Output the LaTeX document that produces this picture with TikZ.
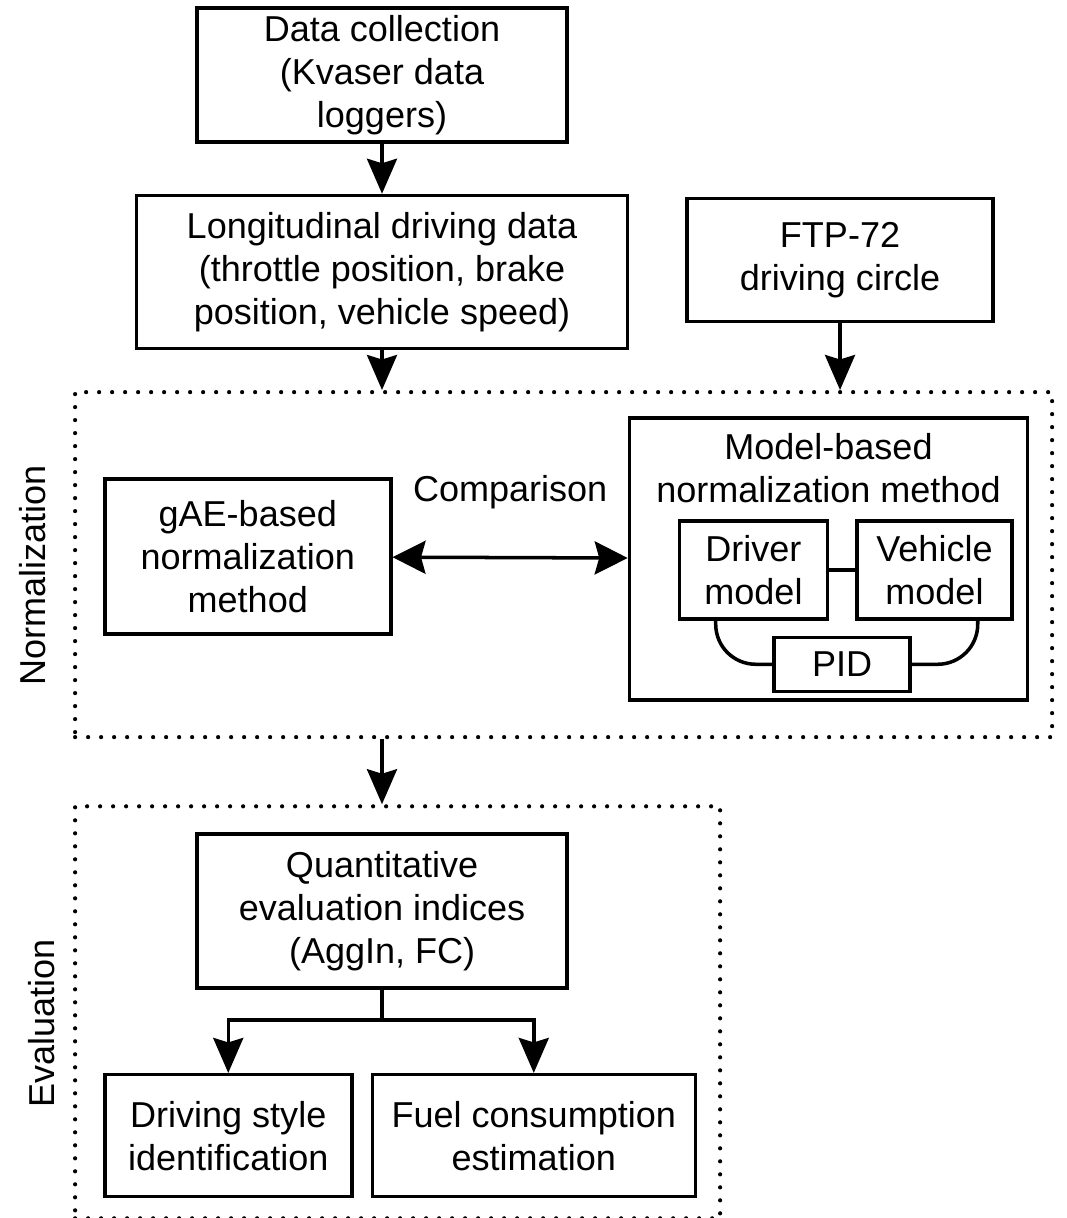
\documentclass[tikz,border=0pt]{standalone}
\usepackage{fontspec}
\setmainfont{Liberation Sans}
\usetikzlibrary{arrows.meta, positioning, calc}

\begin{document}
\begin{tikzpicture}[
  font=\fontsize{20.5}{24.5}\selectfont,
  node distance=10mm,
  box/.style   ={draw, line width=2pt, align=center, inner sep=2pt},
  frame/.style ={draw, line width=2.4pt, dash pattern=on 0pt off 2.6mm,
                 line cap=round, inner sep=0pt},
  side/.style  ={rotate=90, anchor=center},
  arr/.style   ={-{Stealth[length=7mm, width=6mm, inset=0.9mm]}, line width=2pt},
  biarr/.style ={{Stealth[length=6.6mm, width=6.6mm, inset=0.9mm]}-{Stealth[length=6.6mm, width=6.6mm, inset=0.9mm]},
                 line width=2pt},
  link/.style  ={line width=2pt},
]
\useasboundingbox (0,0) rectangle (213.2mm,-243.6mm);

% ================= row 1: data sources =================
\node[box, minimum width=74mm, minimum height=26.8mm] (collect) at (76.4mm,-15mm)
  {Data collection\\(Kvaser data\\loggers)};
\node[box, below=10mm of collect, minimum width=98.2mm, minimum height=30.6mm] (logdata)
  {Longitudinal driving data\\(throttle position, brake\\position, vehicle speed)};
\node[box, right=11.2mm of logdata, yshift=2.4mm, minimum width=61.2mm,
      minimum height=24.6mm] (ftp)
  {FTP-72\\driving circle};

\draw[arr] (collect) -- (logdata);

% ================= row 2: normalization =================
\node[frame, anchor=north west, minimum width=195.4mm, minimum height=69mm]
  (normfr) at (14.6mm,-78mm) {};
\node[side] (normlbl) at ($(normfr.west)+(-8mm,-2.2mm)$) {Normalization};

\draw[arr] (logdata.south) -- (logdata.south |- normfr.north);
\draw[arr] (ftp.south) -- (ftp.south |- normfr.north);

\node[box, right=6mm of normfr.west, yshift=1.6mm, minimum width=57.2mm,
      minimum height=31mm] (gae)
  {gAE-based\\normalization\\method};

\node[box, below left=5.2mm and 5mm of normfr.north east, minimum width=79.6mm,
      minimum height=56.4mm] (model) {};
\node[align=center] (modeltxt) at ($(model.north)+(0,-10.5mm)$)
  {Model-based\\normalization method};

% driver / vehicle loop inside the model-based method
\node[box, below right=20.6mm and 10mm of model.north west, minimum width=29.6mm,
      minimum height=19.6mm] (driver) {Driver\\model};
\node[box, right=5.2mm of driver, minimum width=31mm, minimum height=19.6mm]
  (vehicle) {Vehicle\\model};
\node[box, below=3mm of $(driver.south east)!0.5!(vehicle.south west)$,
      minimum width=27.2mm, minimum height=10.8mm] (pid) {PID};

\draw[link] (driver) -- (vehicle);
\draw[link, rounded corners=8mm] ([xshift=7.6mm]driver.south west) |- (pid.west);
\draw[link, rounded corners=8mm] ([xshift=-7.2mm]vehicle.south east) |- (pid.east);

\draw[biarr] (gae) -- (model);
\node (cmp) at ($(gae.east)!0.5!(model.west)+(0,13.2mm)$) {Comparison};

% ================= row 3: evaluation =================
\node[frame, below right=13mm and 0mm of normfr.south west, minimum width=129mm,
      minimum height=82.4mm] (evalfr) {};
\node[side] (evallbl) at ($(evalfr.west)+(-6.2mm,-2.3mm)$) {Evaluation};

\draw[arr] (normfr.south -| collect) -- (evalfr.north -| collect);

\node[box, below=5.6mm of evalfr.north, xshift=-3.1mm, minimum width=74mm,
      minimum height=30.8mm] (quant)
  {Quantitative\\evaluation indices\\(AggIn, FC)};

\node[box, above right=4.4mm and 6mm of evalfr.south west, minimum width=49.4mm,
      minimum height=24.4mm] (style) {Driving style\\identification};
\node[box, right=3.4mm of style, minimum width=64.6mm, minimum height=24.4mm]
  (fuel) {Fuel consumption\\estimation};

\draw[arr] (quant.south) -- ++(0,-6mm) -| (style.north);
\draw[arr] (quant.south) -- ++(0,-6mm) -| (fuel.north);

\end{tikzpicture}
\end{document}
